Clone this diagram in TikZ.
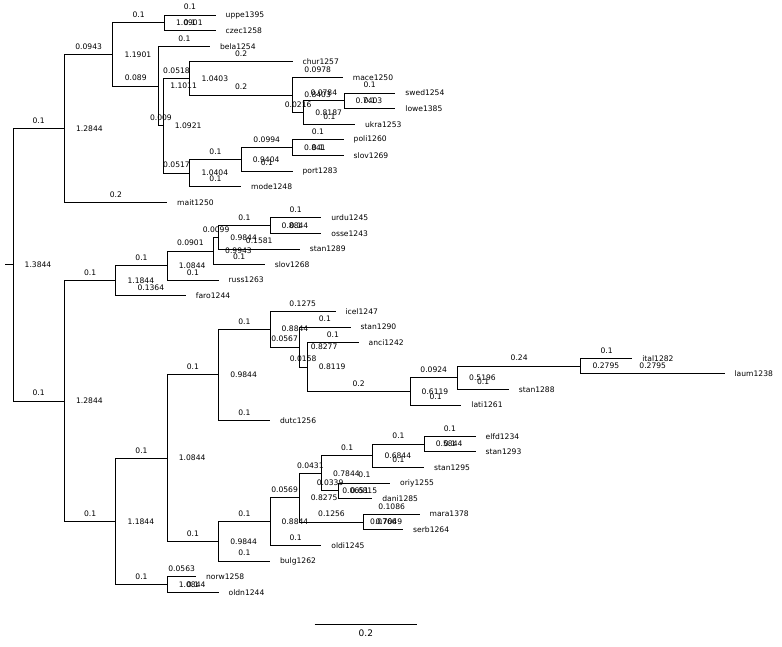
\documentclass[tikz,border=0pt]{standalone}
\usepackage{fontspec}
\setmainfont{DejaVu Sans}
\usetikzlibrary{positioning}
\newcommand\treefont{\fontsize{7.6}{8}\selectfont}
\tikzset{
    branch/.style={
    draw,line width=0.9pt,to path={|- (\tikztotarget) \tikztonodes}
    },
    blen/.style={
    pos=0.75,above=3.5pt,inner sep=1pt,font=\treefont
    },
    supp/.style={
    inner sep=0pt,font=\treefont
    },
    taxon/.style={
    anchor=west,inner sep=0pt,outer xsep=10pt,font=\treefont
    },
}
\begin{document}
\begin{tikzpicture}[x=1pt,y=-1pt,label distance=11.5pt]
   \path[use as bounding box,fill=white] (0,0) rectangle (782,647);

   % inner nodes, support value to the right
   \coordinate (stem) at (5,264.7);
   \coordinate[label={[supp]right:1.3844}] (R) at (13,264.7);
   \coordinate[label={[supp]right:1.2844}] (A) at (64.4,128.3);
   \coordinate[label={[supp]right:1.1901}] (B) at (112.9,54.4);
   \coordinate[label={[supp]right:1.0901}] (C) at (164.3,22.8);
   \coordinate[label={[supp]right:1.1011}] (D) at (158.6,86.0);
   \coordinate[label={[supp]right:1.0921}] (E) at (163.2,125.7);
   \coordinate[label={[supp]right:1.0403}] (F) at (189.8,78.4);
   \coordinate[label={[supp]right:0.8403}] (G) at (292.6,95.0);
   \coordinate[label={[supp]right:0.8187}] (H) at (303.7,112.5);
   \coordinate[label={[supp]right:0.7403}] (I) at (344.0,100.8);
   \coordinate[label={[supp]right:1.0404}] (J) at (189.8,173.0);
   \coordinate[label={[supp]right:0.9404}] (K) at (241.2,159.3);
   \coordinate[label={[supp]right:0.841}] (L) at (292.3,147.6);
   \coordinate[label={[supp]right:1.2844}] (P) at (64.4,401.0);
   \coordinate[label={[supp]right:1.1844}] (Q) at (115.8,280.7);
   \coordinate[label={[supp]right:1.0844}] (Q1) at (167.2,265.6);
   \coordinate[label={[supp]right:0.9943}] (Q2) at (213.5,251.0);
   \coordinate[label={[supp]right:0.9844}] (Q3) at (218.6,237.3);
   \coordinate[label={[supp]right:0.8844}] (Q4) at (270.0,225.6);
   \coordinate[label={[supp]right:1.1844}] (T) at (115.8,521.3);
   \coordinate[label={[supp]right:1.0844}] (U) at (167.2,458.1);
   \coordinate[label={[supp]right:1.0844}] (V) at (167.2,584.4);
   \coordinate[label={[supp]right:0.9844}] (W) at (218.6,374.9);
   \coordinate[label={[supp]right:0.8844}] (Y) at (270.0,329.2);
   \coordinate[label={[supp]right:0.8277}] (Y1) at (299.1,347.0);
   \coordinate[label={[supp]right:0.8119}] (Y2) at (307.2,367.0);
   \coordinate[label={[supp]right:0.6119}] (Z) at (410.0,391.4);
   \coordinate[label={[supp]right:0.5196}] (Z1) at (457.5,377.7);
   \coordinate[label={[supp]right:0.2795}] (Z2) at (580.9,366.0);
   \coordinate[label={[supp]right:0.9844}] (X) at (218.6,541.3);
   \coordinate[label={[supp]right:0.8844}] (X1) at (270.0,521.5);
   \coordinate[label={[supp]right:0.8275}] (X2) at (299.2,497.6);
   \coordinate[label={[supp]right:0.7844}] (X3) at (321.4,473.3);
   \coordinate[label={[supp]right:0.6844}] (X4) at (372.8,455.7);
   \coordinate[label={[supp]right:0.5844}] (X7) at (424.2,444.0);
   \coordinate[label={[supp]right:0.6815}] (X5) at (338.8,490.8);
   \coordinate[label={[supp]right:0.7049}] (X6) at (363.8,522.0);

   % leaves
   \node[taxon] (uppe1395) at (215.7,15.0) {uppe1395};
   \node[taxon] (czec1258) at (215.7,30.6) {czec1258};
   \node[taxon] (bela1254) at (210.0,46.2) {bela1254};
   \node[taxon] (chur1257) at (292.6,61.8) {chur1257};
   \node[taxon] (mace1250) at (342.9,77.4) {mace1250};
   \node[taxon] (swed1254) at (395.4,93.0) {swed1254};
   \node[taxon] (lowe1385) at (395.4,108.6) {lowe1385};
   \node[taxon] (ukra1253) at (355.1,124.2) {ukra1253};
   \node[taxon] (poli1260) at (343.7,139.8) {poli1260};
   \node[taxon] (slov1269) at (343.7,155.4) {slov1269};
   \node[taxon] (port1283) at (292.6,171.0) {port1283};
   \node[taxon] (mode1248) at (241.2,186.6) {mode1248};
   \node[taxon] (mait1250) at (167.2,202.2) {mait1250};
   \node[taxon] (urdu1245) at (321.4,217.8) {urdu1245};
   \node[taxon] (osse1243) at (321.4,233.4) {osse1243};
   \node[taxon] (stan1289) at (299.9,249.0) {stan1289};
   \node[taxon] (slov1268) at (264.9,264.6) {slov1268};
   \node[taxon] (russ1263) at (218.6,280.2) {russ1263};
   \node[taxon] (faro1244) at (185.9,295.8) {faro1244};
   \node[taxon] (icel1247) at (335.5,311.4) {icel1247};
   \node[taxon] (stan1290) at (350.5,327.0) {stan1290};
   \node[taxon] (anci1242) at (358.6,342.6) {anci1242};
   \node[taxon] (ital1282) at (632.3,358.2) {ital1282};
   \node[taxon] (laum1238) at (724.6,373.8) {laum1238};
   \node[taxon] (stan1288) at (508.9,389.4) {stan1288};
   \node[taxon] (lati1261) at (461.4,405.0) {lati1261};
   \node[taxon] (dutc1256) at (270.0,420.6) {dutc1256};
   \node[taxon] (elfd1234) at (475.6,436.2) {elfd1234};
   \node[taxon] (stan1293) at (475.6,451.8) {stan1293};
   \node[taxon] (stan1295) at (424.2,467.4) {stan1295};
   \node[taxon] (oriy1255) at (390.2,483.0) {oriy1255};
   \node[taxon] (dani1285) at (372.3,498.6) {dani1285};
   \node[taxon] (mara1378) at (419.6,514.2) {mara1378};
   \node[taxon] (serb1264) at (403.2,529.8) {serb1264};
   \node[taxon] (oldi1245) at (321.4,545.4) {oldi1245};
   \node[taxon] (bulg1262) at (270.0,561.0) {bulg1262};
   \node[taxon] (norw1258) at (196.1,576.6) {norw1258};
   \node[taxon] (oldn1244) at (218.6,592.2) {oldn1244};

   % branches, length above
   \path[every edge/.style={branch}]
      (stem) edge (R)
      (R)  edge node[blen] {0.1} (A)
           edge node[blen] {0.1} (P)
      (A)  edge node[blen] {0.0943} (B)
           edge node[blen] {0.2} (mait1250.west)
      (B)  edge node[blen] {0.1} (C)
           edge node[blen] {0.089} (D)
      (C)  edge node[blen] {0.1} (uppe1395.west)
           edge node[blen] {0.1} (czec1258.west)
      (D)  edge node[blen] {0.1} (bela1254.west)
           edge node[blen] {0.009} (E)
      (E)  edge node[blen] {0.0518} (F)
           edge node[blen] {0.0517} (J)
      (F)  edge node[blen] {0.2} (chur1257.west)
           edge node[blen] {0.2} (G)
      (G)  edge node[blen] {0.0978} (mace1250.west)
           edge node[blen] {0.0216} (H)
      (H)  edge node[blen] {0.0784} (I)
           edge node[blen] {0.1} (ukra1253.west)
      (I)  edge node[blen] {0.1} (swed1254.west)
           edge node[blen] {0.1} (lowe1385.west)
      (J)  edge node[blen] {0.1} (K)
           edge node[blen] {0.1} (mode1248.west)
      (K)  edge node[blen] {0.0994} (L)
           edge node[blen] {0.1} (port1283.west)
      (L)  edge node[blen] {0.1} (poli1260.west)
           edge node[blen] {0.1} (slov1269.west)
      (P)  edge node[blen] {0.1} (Q)
           edge node[blen] {0.1} (T)
      (Q)  edge node[blen] {0.1} (Q1)
           edge node[blen] {0.1364} (faro1244.west)
      (Q1) edge node[blen] {0.0901} (Q2)
           edge node[blen] {0.1} (russ1263.west)
      (Q2) edge node[blen] {0.0099} (Q3)
           edge node[blen] {0.1} (slov1268.west)
      (Q3) edge node[blen] {0.1} (Q4)
           edge node[blen] {0.1581} (stan1289.west)
      (Q4) edge node[blen] {0.1} (urdu1245.west)
           edge node[blen] {0.1} (osse1243.west)
      (T)  edge node[blen] {0.1} (U)
           edge node[blen] {0.1} (V)
      (U)  edge node[blen] {0.1} (W)
           edge node[blen] {0.1} (X)
      (W)  edge node[blen] {0.1} (Y)
           edge node[blen] {0.1} (dutc1256.west)
      (Y)  edge node[blen] {0.1275} (icel1247.west)
           edge node[blen] {0.0567} (Y1)
      (Y1) edge node[blen] {0.1} (stan1290.west)
           edge node[blen] {0.0158} (Y2)
      (Y2) edge node[blen] {0.1} (anci1242.west)
           edge node[blen] {0.2} (Z)
      (Z)  edge node[blen] {0.0924} (Z1)
           edge node[blen] {0.1} (lati1261.west)
      (Z1) edge node[blen] {0.24} (Z2)
           edge node[blen] {0.1} (stan1288.west)
      (Z2) edge node[blen] {0.1} (ital1282.west)
           edge node[blen] {0.2795} (laum1238.west)
      (X)  edge node[blen] {0.1} (X1)
           edge node[blen] {0.1} (bulg1262.west)
      (X1) edge node[blen] {0.0569} (X2)
           edge node[blen] {0.1} (oldi1245.west)
      (X2) edge node[blen] {0.0431} (X3)
           edge node[blen] {0.1256} (X6)
      (X3) edge node[blen] {0.1} (X4)
           edge node[blen] {0.0339} (X5)
      (X4) edge node[blen] {0.1} (X7)
           edge node[blen] {0.1} (stan1295.west)
      (X7) edge node[blen] {0.1} (elfd1234.west)
           edge node[blen] {0.1} (stan1293.west)
      (X5) edge node[blen] {0.1} (oriy1255.west)
           edge node[blen] {0.0651} (dani1285.west)
      (X6) edge node[blen] {0.1086} (mara1378.west)
           edge node[blen] {0.0766} (serb1264.west)
      (V)  edge node[blen] {0.0563} (norw1258.west)
           edge node[blen] {0.1} (oldn1244.west);

   % scale bar
   \coordinate (bar0) at (314.5,624);
   \coordinate (bar1) at (417.3,624);
   \draw[line width=0.9pt] (bar0) -- node[below=4pt,inner sep=1pt,font=\fontsize{9}{10}\selectfont] {0.2} (bar1);
\end{tikzpicture}
\end{document}
